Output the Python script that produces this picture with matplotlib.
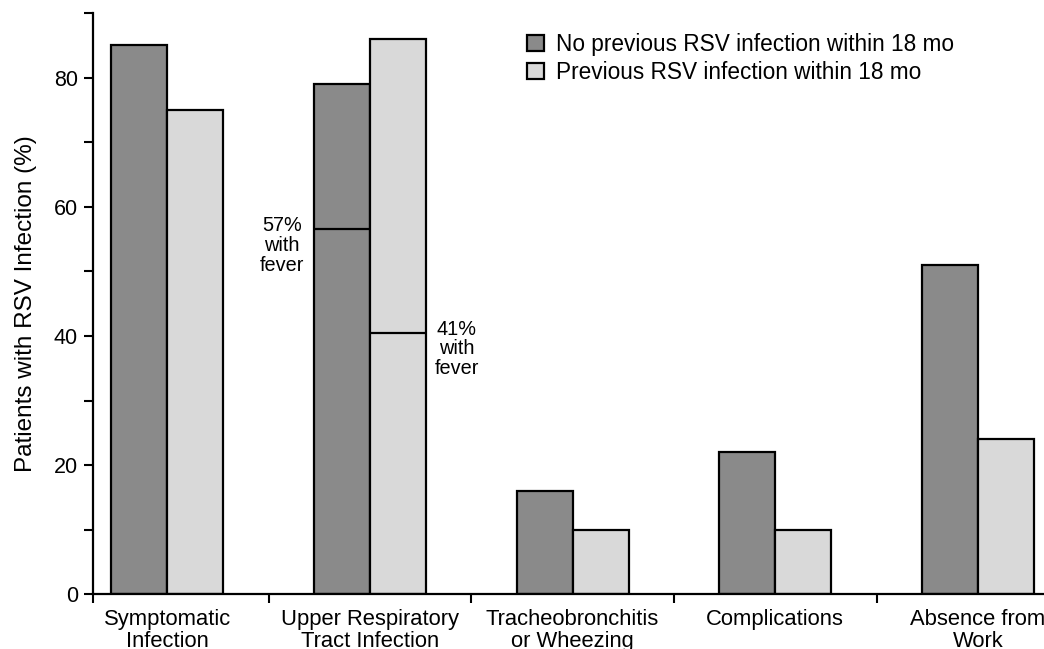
import matplotlib
matplotlib.use("Agg")
import matplotlib.pyplot as plt
import numpy as np

categories = ["Symptomatic\nInfection", "Upper Respiratory\nTract Infection",
              "Tracheobronchitis\nor Wheezing", "Complications", "Absence from\nWork"]
no_prev = [85, 79, 16, 22, 51]
prev = [75, 86, 10, 10, 24]
fever_no_prev = 56.5
fever_prev = 40.5
fever_labels = ["57%\nwith\nfever", "41%\nwith\nfever"]
series_labels = ["No previous RSV infection within 18 mo",
                 "Previous RSV infection within 18 mo"]

plt.rcParams['font.family'] = ['Liberation Sans', 'DejaVu Sans']

W, H = 1044, 649
fig = plt.figure(figsize=(W / 100, H / 100), dpi=100)
x0, x1 = -0.368, 4.368
ax_left_px, ax_bottom_px = 92.7, 649 - 594.3
ax_w_px = (x1 - x0) * 202.67
ax_h_px = 581.3
ax = fig.add_axes([ax_left_px / W, ax_bottom_px / H, ax_w_px / W, ax_h_px / H])

x = np.arange(len(categories))
bw = 0.276
dark = "#8a8a8a"
light = "#d9d9d9"
b1 = ax.bar(x - bw / 2, no_prev, bw, color=dark, edgecolor="black", linewidth=1.6,
            label=series_labels[0])
b2 = ax.bar(x + bw / 2, prev, bw, color=light, edgecolor="black", linewidth=1.6,
            label=series_labels[1])

# fever lines in the Upper Respiratory group
g = 1
ax.hlines(fever_no_prev, g - bw, g, color="black", linewidth=1.6, zorder=3)
ax.hlines(fever_prev, g, g + bw, color="black", linewidth=1.6, zorder=3)
ax.text(g - bw - 0.158, fever_no_prev - 2.5, fever_labels[0], ha="center", va="center",
        fontsize=14.3, linespacing=1.05)
ax.text(g + bw + 0.153, fever_prev - 2.5, fever_labels[1], ha="center", va="center",
        fontsize=14.3, linespacing=1.05)

ax.set_xlim(x0, x1)
ax.set_ylim(0, 90)
ax.spines["top"].set_visible(False)
ax.spines["right"].set_visible(False)
for s in ("left", "bottom"):
    ax.spines[s].set_linewidth(1.6)

ax.set_yticks([0, 20, 40, 60, 80])
ax.set_yticks([10, 30, 50, 70, 90], minor=True)
ax.tick_params(axis="y", which="both", length=6.5, width=1.5, labelsize=15.5, pad=4)

ax.set_xticks([x0, 0.5, 1.5, 2.5, 3.5])
ax.set_xticklabels([""] * 5)
ax.set_xticks(x, minor=True)
ax.set_xticklabels(categories, minor=True, fontsize=15.8, linespacing=1.05)
ax.tick_params(axis="x", which="major", length=6.5, width=1.5)
ax.tick_params(axis="x", which="minor", length=0, pad=10.5)

ax.set_ylabel("Patients with RSV Infection (%)", fontsize=17.5)
ax.yaxis.set_label_coords(-0.058, 0.5)

fig.legend(handles=[b1, b2], loc="upper left", bbox_to_anchor=(527 / W, 1 - 33 / H),
           frameon=False, fontsize=16.3, handlelength=0.75, handleheight=0.72,
           handletextpad=0.55, labelspacing=0.2, borderpad=0, borderaxespad=0)

fig.savefig("out.png", dpi=100)
